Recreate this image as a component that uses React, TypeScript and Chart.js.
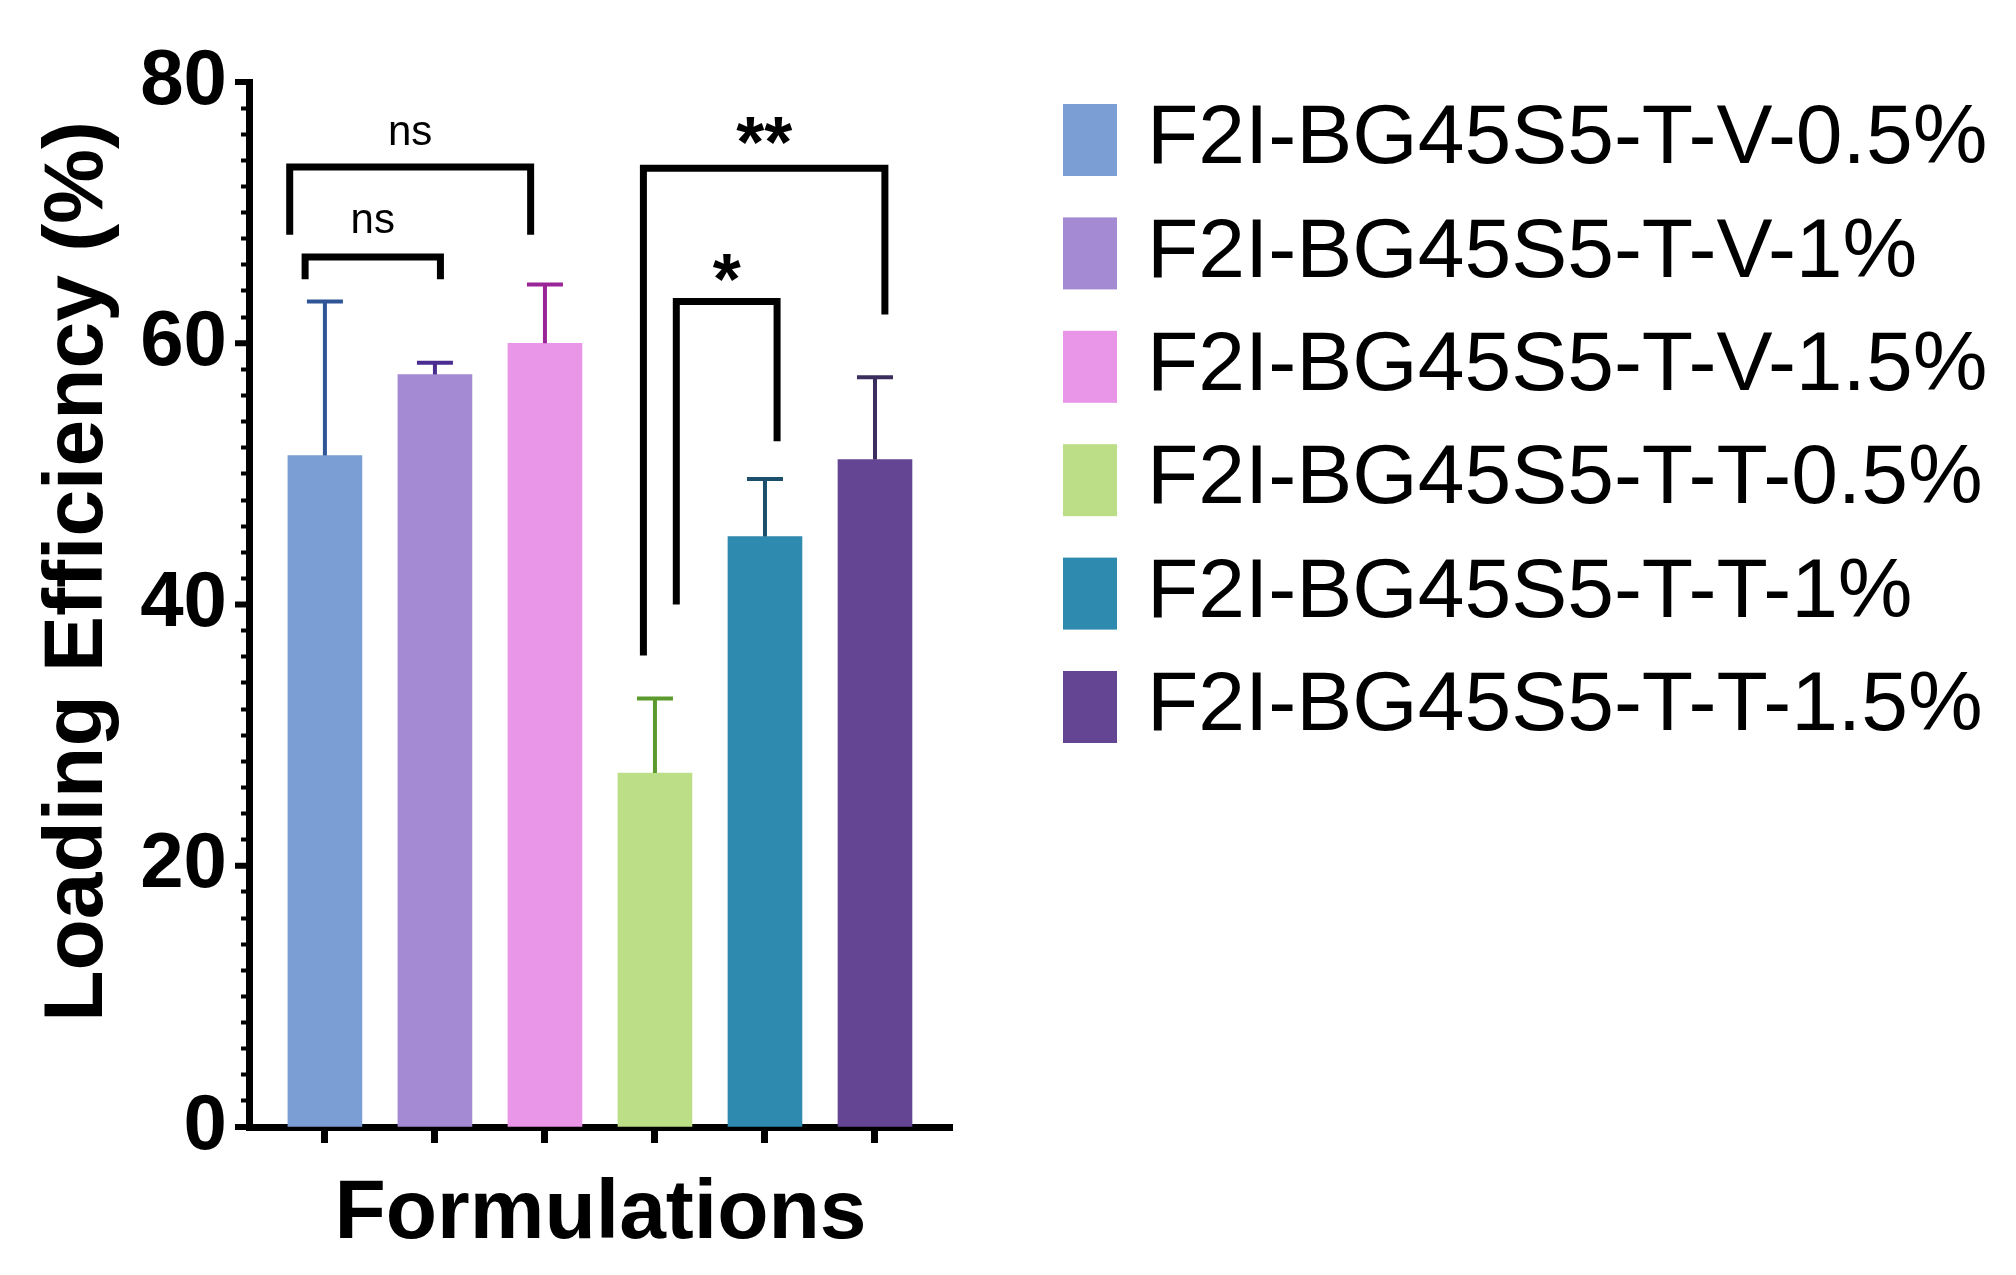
import React, { useEffect, useRef } from 'react';
import { Chart, registerables } from 'chart.js';

Chart.register(...registerables);

// ---- data ----
const categories = [
  'F2I-BG45S5-T-V-0.5%',
  'F2I-BG45S5-T-V-1%',
  'F2I-BG45S5-T-V-1.5%',
  'F2I-BG45S5-T-T-0.5%',
  'F2I-BG45S5-T-T-1%',
  'F2I-BG45S5-T-T-1.5%',
];
const means = [51.4, 57.6, 60.0, 27.1, 45.2, 51.1];
const sds = [11.8, 0.9, 4.5, 5.7, 4.4, 6.3];
const barColors = ['#7B9FD4', '#A48AD3', '#E995E8', '#BBDE87', '#2E8AAE', '#634593'];
const errorColors = ['#2F5597', '#4B2C90', '#9A2596', '#5C9A2E', '#1B4F6B', '#3B2E5E'];
const majorTicks = [0, 20, 40, 60, 80];

// significance brackets (x in category units, y in %)
const bracketLabels = ['ns', 'ns', '**', '*'];
const bracketStartX = [-0.32, -0.18, 2.895, 3.194];
const bracketEndX = [1.87, 1.05, 5.09, 4.11];
const bracketTopY = [73.5, 66.6, 73.4, 63.2];
const bracketLeftFootY = [68.3, 64.9, 36.1, 40.0];
const bracketRightFootY = [68.3, 64.9, 62.2, 52.5];
const bracketLabelY = [76.1, 69.3, 75.0, 64.5];

const FONT = "'Liberation Sans', Arial, Helvetica, sans-serif";

const overlayPlugin = {
  id: 'overlay',
  afterDatasetsDraw(chart: any) {
    const { ctx, scales } = chart;
    const x = scales.x;
    const y = scales.y;
    ctx.save();
    // error bars (upper only)
    means.forEach((m, i) => {
      const px = x.getPixelForValue(i);
      const y0 = y.getPixelForValue(m);
      const y1 = y.getPixelForValue(m + sds[i]);
      ctx.strokeStyle = errorColors[i];
      ctx.lineWidth = 4;
      ctx.lineCap = 'butt';
      ctx.beginPath();
      ctx.moveTo(px, y0);
      ctx.lineTo(px, y1);
      ctx.moveTo(px - 18, y1);
      ctx.lineTo(px + 18, y1);
      ctx.stroke();
    });
    // brackets
    bracketLabels.forEach((lab, i) => {
      const xa = x.getPixelForValue(bracketStartX[i]);
      const xb = x.getPixelForValue(bracketEndX[i]);
      const yt = y.getPixelForValue(bracketTopY[i]);
      const yl = y.getPixelForValue(bracketLeftFootY[i]);
      const yr = y.getPixelForValue(bracketRightFootY[i]);
      ctx.strokeStyle = '#000';
      ctx.lineWidth = 7;
      ctx.lineJoin = 'miter';
      ctx.lineCap = 'butt';
      ctx.beginPath();
      ctx.moveTo(xa, yl);
      ctx.lineTo(xa, yt);
      ctx.lineTo(xb, yt);
      ctx.lineTo(xb, yr);
      ctx.stroke();
      const isStar = lab.indexOf('*') >= 0;
      ctx.fillStyle = '#000';
      ctx.font = isStar ? `bold 72px ${FONT}` : `42px ${FONT}`;
      ctx.textAlign = 'center';
      ctx.textBaseline = 'middle';
      ctx.fillText(lab, (xa + xb) / 2, y.getPixelForValue(bracketLabelY[i]));
    });
    ctx.restore();
  },
  afterDraw(chart: any) {
    const { ctx, scales, chartArea } = chart;
    const y = scales.y;
    ctx.save();
    // longer major ticks on y axis
    ctx.strokeStyle = '#000';
    ctx.lineWidth = 6;
    majorTicks.forEach((v) => {
      const py = y.getPixelForValue(v);
      ctx.beginPath();
      ctx.moveTo(chartArea.left - 14, py);
      ctx.lineTo(chartArea.left, py);
      ctx.stroke();
    });
    // y-axis title
    ctx.fillStyle = '#000';
    ctx.font = `bold 84px ${FONT}`;
    ctx.textAlign = 'center';
    ctx.textBaseline = 'middle';
    ctx.translate(79, (chartArea.top + chartArea.bottom) / 2 - 33);
    ctx.rotate(-Math.PI / 2);
    ctx.fillText('Loading Efficiency (%)', 0, 0);
    ctx.restore();

    // legend
    ctx.save();
    const lx = chartArea.right + 111;
    const ly = chartArea.top + 22;
    const step = 113.4;
    ctx.font = `84px ${FONT}`;
    ctx.textAlign = 'left';
    ctx.textBaseline = 'middle';
    categories.forEach((lab, i) => {
      const top = ly + i * step;
      ctx.fillStyle = barColors[i];
      ctx.fillRect(lx, top, 54, 72);
      ctx.fillStyle = '#000';
      ctx.fillText(lab, lx + 84, top + 36);
    });
    ctx.restore();
  },
};

export default function App() {
  const canvasRef = useRef<HTMLCanvasElement | null>(null);

  useEffect(() => {
    if (!canvasRef.current) return;
    const chart = new Chart(canvasRef.current, {
      type: 'bar',
      data: {
        datasets: [
          {
            label: 'Loading Efficiency',
            data: means.map((m, i) => ({ x: i, y: m })),
            backgroundColor: barColors,
            borderWidth: 0,
            barThickness: 74,
          } as any,
        ],
      },
      options: {
        animation: false,
        responsive: true,
        maintainAspectRatio: false,
        devicePixelRatio: 1,
        layout: { padding: { left: 0, top: 82, right: 1064, bottom: 0 } },
        plugins: {
          legend: { display: false },
          tooltip: { enabled: false },
        },
        scales: {
          x: {
            type: 'linear',
            min: -0.69,
            max: 5.7,
            offset: false,
            z: 1,
            afterBuildTicks: (s: any) => {
              s.ticks = categories.map((_, i) => ({ value: i }));
            },
            afterFit: (s: any) => {
              s.height = 148;
            },
            ticks: { display: false },
            grid: {
              offset: false,
              drawOnChartArea: false,
              drawTicks: true,
              tickLength: 16,
              tickWidth: 7,
              tickColor: '#000',
            },
            border: { display: true, color: '#000', width: 7 },
            title: {
              display: true,
              text: 'Formulations',
              color: '#000',
              font: { family: FONT, size: 84, weight: 'bold' },
              padding: { top: 0, bottom: 10 },
            },
          },
          y: {
            min: 0,
            max: 80,
            z: 1,
            afterFit: (s: any) => {
              s.width = 249;
            },
            ticks: {
              stepSize: 2,
              autoSkip: false,
              padding: 14,
              color: '#000',
              font: { family: FONT, size: 78, weight: 'bold' },
              callback: (v: any) => (Math.abs(Number(v) % 20) < 1e-6 ? String(v) : ''),
            },
            grid: {
              drawOnChartArea: false,
              drawTicks: true,
              tickLength: 8,
              tickWidth: 4,
              tickColor: '#000',
            },
            border: { display: true, color: '#000', width: 7 },
          },
        } as any,
      },
      plugins: [overlayPlugin],
    });
    return () => chart.destroy();
  }, []);

  return (
    <div
      style={{
        position: 'absolute',
        left: 0,
        top: 0,
        width: '2016px',
        height: '1275px',
        background: '#fff',
      }}
    >
      <canvas ref={canvasRef} style={{ width: '100%', height: '100%' }} />
    </div>
  );
}
